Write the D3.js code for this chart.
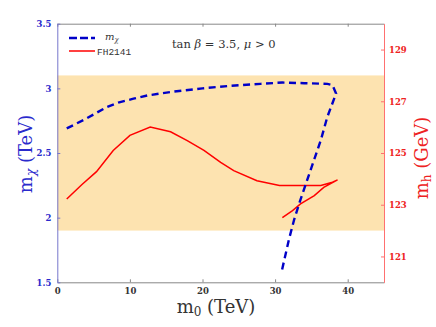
<!DOCTYPE html>
<html><head><meta charset="utf-8">
<script src="https://cdn.jsdelivr.net/npm/d3@7"></script>
<style>body{margin:0;background:#fff}svg{display:block}</style>
</head><body>
<svg id="c" width="436" height="327"></svg>
<script>
const xTicks = [0, 10, 20, 30, 40];
const leftTicks = [1.5, 2, 2.5, 3, 3.5];
const rightTicks = [121, 123, 125, 127, 129];
const band = [122, 128];
// blue dashed curve: m0 (TeV), m_chi (TeV)
const chiM0  = [1.3, 3.8, 6.8, 8.4, 10.5, 12.4, 16, 20, 24, 28, 31, 34, 37.2, 37.9, 38.4, 37.2, 36.3, 34.9, 33.5, 32.6, 31.9, 30.85];
const chiVal = [2.69, 2.76, 2.855, 2.89, 2.92, 2.945, 2.975, 3.0, 3.02, 3.035, 3.045, 3.04, 3.035, 3.025, 2.96, 2.78, 2.60, 2.37, 2.14, 1.98, 1.83, 1.57];
// red curve: m0 (TeV), m_h (GeV)
const hM0  = [1.3, 3.4, 5.4, 7.7, 10.0, 12.8, 15.6, 17.9, 20.2, 22.5, 24.3, 27.5, 30.6, 36.3, 37.9, 38.6, 36.7, 35.4, 33.5, 32.4, 31.0];
const hVal = [123.22, 123.78, 124.28, 125.1, 125.68, 126.0, 125.82, 125.48, 125.1, 124.64, 124.32, 123.93, 123.74, 123.74, 123.87, 123.96, 123.67, 123.35, 123.03, 122.77, 122.5];

const svg = d3.select("#c");
const L = 57.3, R = 384, T = 23.7, B = 282.3;
const x = d3.scaleLinear().domain([0, 45]).range([L, R]);
const yl = d3.scaleLinear().domain([1.5, 3.5]).range([B, T]);
const yr = d3.scaleLinear().domain([120, 130]).range([B, T]);

// band
svg.append("rect").attr("x", L).attr("width", R - L)
  .attr("y", yr(band[1])).attr("height", yr(band[0]) - yr(band[1]))
  .attr("fill", "#fde3b0");

const tickFont = "DejaVu Serif";
function styleAxis(g, color, textColor) {
  g.select(".domain").attr("stroke", color);
  g.selectAll(".tick line").attr("stroke", color);
  g.selectAll(".tick text").attr("fill", textColor).attr("font-family", tickFont)
    .attr("font-size", 8.5).attr("font-weight", "bold");
}
// bottom
const gb = svg.append("g").attr("transform", `translate(0,${B})`)
  .call(d3.axisBottom(x).tickValues(xTicks).tickSize(-3).tickPadding(6).tickSizeOuter(0));
styleAxis(gb, "#888", "#333");
// top
const gt = svg.append("g").attr("transform", `translate(0,${T})`)
  .call(d3.axisTop(x).tickValues(xTicks).tickSize(-3).tickFormat("").tickSizeOuter(0));
styleAxis(gt, "#888", "#333");
// left
const gl = svg.append("g").attr("transform", `translate(${L},0)`)
  .call(d3.axisLeft(yl).tickValues(leftTicks).tickSize(-3).tickPadding(6).tickSizeOuter(0)
    .tickFormat(d => String(d)));
styleAxis(gl, "#7777cc", "#2a2acc");
// right
const gr = svg.append("g").attr("transform", `translate(${R},0)`)
  .call(d3.axisRight(yr).tickValues(rightTicks).tickSize(-3).tickPadding(5).tickSizeOuter(0));
styleAxis(gr, "#ff7070", "#ee2222");

// curves
const chiData = chiM0.map((d, i) => [d, chiVal[i]]);
const hData = hM0.map((d, i) => [d, hVal[i]]);
svg.append("path").datum(hData)
  .attr("d", d3.line().x(d => x(d[0])).y(d => yr(d[1])))
  .attr("fill", "none").attr("stroke", "#ff0000").attr("stroke-width", 1.5);
svg.append("path").datum(chiData)
  .attr("d", d3.line().x(d => x(d[0])).y(d => yl(d[1])))
  .attr("fill", "none").attr("stroke", "#0000c8").attr("stroke-width", 2.4)
  .attr("stroke-dasharray", "7,4.5");

// legend
svg.append("line").attr("x1", 69).attr("x2", 95).attr("y1", 38).attr("y2", 38)
  .attr("stroke", "#0000c8").attr("stroke-width", 2.4).attr("stroke-dasharray", "8,3");
const t1 = svg.append("text").attr("x", 105).attr("y", 40)
  .attr("font-family", "DejaVu Serif").attr("font-size", 10).attr("fill", "#333");
t1.append("tspan").attr("font-style", "italic").text("m");
t1.append("tspan").attr("font-style", "italic").attr("font-size", 7).attr("dy", 2).text("χ");
svg.append("line").attr("x1", 69).attr("x2", 95).attr("y1", 51).attr("y2", 51)
  .attr("stroke", "#ff0000").attr("stroke-width", 1.5);
svg.append("text").attr("x", 97).attr("y", 54.5).attr("font-family", "Liberation Mono")
  .attr("font-size", 9.5).attr("fill", "#333").text("FH2141");

// annotation
const ann = svg.append("text").attr("x", 172).attr("y", 48)
  .attr("font-family", "DejaVu Serif").attr("font-size", 11.5).attr("fill", "#333");
ann.append("tspan").text("tan ");
ann.append("tspan").attr("font-style", "italic").text("β");
ann.append("tspan").text(" = 3.5, ");
ann.append("tspan").attr("font-style", "italic").text("μ");
ann.append("tspan").text(" > 0");

// axis titles
const titleFont = "DejaVu Serif";
const xl = svg.append("text").attr("x", 216).attr("y", 313).attr("text-anchor", "middle")
  .attr("font-family", titleFont).attr("font-size", 18).attr("fill", "#333");
xl.append("tspan").text("m");
xl.append("tspan").attr("font-size", 12).attr("dy", 3).text("0");
xl.append("tspan").attr("dy", -3).text(" (TeV)");

const ylab = svg.append("text").attr("transform", "translate(32,154) rotate(-90)")
  .attr("text-anchor", "middle").attr("font-family", titleFont)
  .attr("font-size", 18).attr("fill", "#2a2acc");
ylab.append("tspan").text("m");
ylab.append("tspan").attr("font-size", 12).attr("font-style", "italic").attr("dy", 3).text("χ");
ylab.append("tspan").attr("dy", -3).text(" (TeV)");

const yrlab = svg.append("text").attr("transform", "translate(428,158) rotate(-90)")
  .attr("text-anchor", "middle").attr("font-family", titleFont)
  .attr("font-size", 18).attr("fill", "#ee2222");
yrlab.append("tspan").text("m");
yrlab.append("tspan").attr("font-size", 12).attr("dy", 3).text("h");
yrlab.append("tspan").attr("dy", -3).text(" (GeV)");
</script>
</body></html>
